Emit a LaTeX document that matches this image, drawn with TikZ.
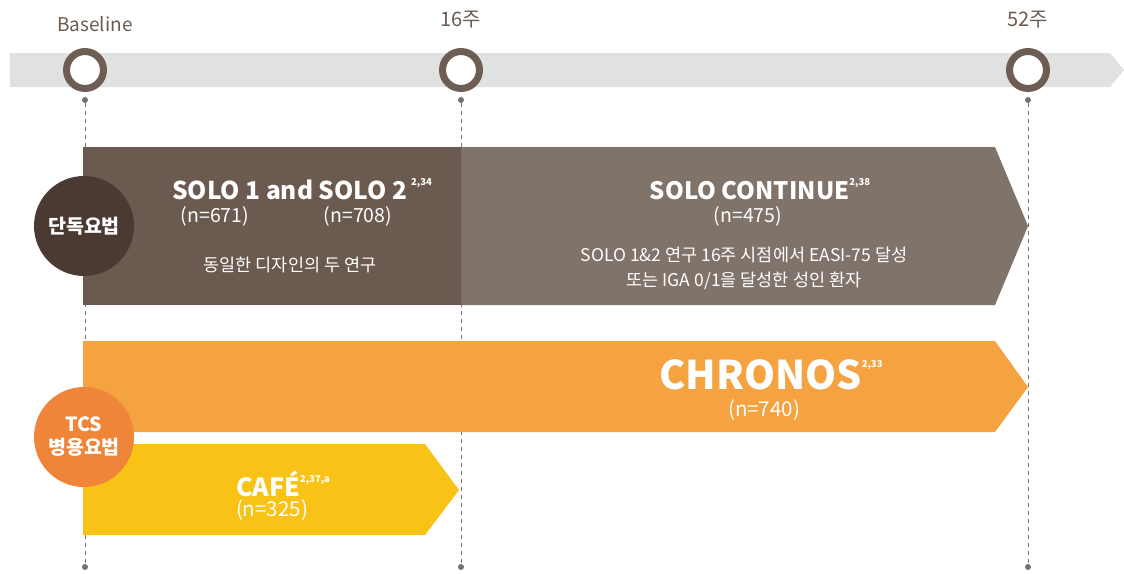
\documentclass[tikz,border=0pt]{standalone}
\usepackage{fontspec}
\setmainfont{Noto Sans CJK KR}
\definecolor{band}{HTML}{E0E2E1}
\definecolor{ring}{HTML}{6E5D53}
\definecolor{soloa}{HTML}{6B5A50}
\definecolor{solob}{HTML}{80736A}
\definecolor{darkc}{HTML}{4B3A32}
\definecolor{chron}{HTML}{F4A340}
\definecolor{tcsc}{HTML}{EE8538}
\definecolor{cafec}{HTML}{F8C316}
\definecolor{dashc}{HTML}{77706B}
\definecolor{lbl}{HTML}{6B5A50}
\newcommand{\sups}[1]{\raisebox{1.05ex}{\fontsize{9.5}{9.5}\selectfont #1}}
\tikzset{
  ringnode/.style={circle, draw=ring, line width=7pt, fill=white, minimum size=37pt, inner sep=0pt},
  dotnode/.style={circle, fill=dashc, minimum size=6pt, inner sep=0pt},
  vline/.style={draw=dashc, line width=1pt, dash pattern=on 4pt off 4pt},
  toplabel/.style={text=lbl, font=\fontsize{19}{19}\selectfont},
  boxtext/.style={text=white, align=center},
  catcircle/.style={circle, minimum size=100pt, inner sep=0pt, text=white, align=center, font=\bfseries\fontsize{19.5}{23}\selectfont}
}
\begin{document}
\begin{tikzpicture}[x=1pt,y=-1pt]
\useasboundingbox (0,0) rectangle (1124,573);
% timeline band
\fill[band] (10,53) -- (1110,53) -- (1124,70) -- (1110,87) -- (10,87) -- cycle;
% dots and dashed lines
\foreach \n/\x in {a/85,b/461,c/1028}{
  \node[dotnode] (t\n) at (\x,100) {};
  \node[dotnode] (b\n) at (\x,567) {};
  \draw[vline] (t\n) -- (b\n);
}
% rings
\node[ringnode] (r0) at (85,70) {};
\node[ringnode] (r16) at (461,70) {};
\node[ringnode] (r52) at (1028,70) {};
\node[toplabel] (l0) at (95,24) {Baseline};
\node[toplabel, font=\fontsize{20}{20}\selectfont] (l16) at (461,20) {16주};
\node[toplabel, font=\fontsize{20}{20}\selectfont] (l52) at (1028,20) {52주};
% SOLO boxes
\fill[soloa] (83,147) rectangle (461,305);
\fill[solob] (461,147) -- (995,147) -- (1028,226) -- (995,305) -- (461,305) -- cycle;
\draw[draw=dashc!80!soloa, line width=0.8pt, dash pattern=on 3pt off 3pt] (461,147) -- (461,305);
% CHRONOS
\fill[chron] (83,341) -- (995,341) -- (1028,387) -- (995,432) -- (83,432) -- cycle;
% CAFE
\fill[cafec] (83,444) -- (425,444) -- (459,490) -- (425,535) -- (83,535) -- cycle;
% category circles
\node[catcircle, fill=darkc] (mono) at (84,226) {단독요법};
\node[catcircle, fill=tcsc] (tcs) at (84,437) {TCS\\병용요법};
% SOLO 1/2 text
\node[boxtext, font=\bfseries\fontsize{24.5}{24.5}\selectfont] (s12) at (302,189) {SOLO 1 and SOLO 2\,\sups{2,34}};
\node[boxtext, font=\fontsize{19.5}{19.5}\selectfont] (n671) at (215,216) {(n=671)};
\node[boxtext, font=\fontsize{19.5}{19.5}\selectfont] (n708) at (358,216) {(n=708)};
\node[boxtext, font=\fontsize{17.5}{18}\selectfont] (same) at (290,265) {동일한 디자인의 두 연구};
% SOLO CONTINUE text
\node[boxtext, font=\bfseries\fontsize{24}{24}\selectfont] (sc) at (760,189) {SOLO CONTINUE\sups{2,38}};
\node[boxtext, font=\fontsize{19.5}{19.5}\selectfont] (n475) at (748,216) {(n=475)};
\node[boxtext, font=\fontsize{17.5}{25}\selectfont] (scd) at (744,268) {SOLO 1\&2 연구 16주 시점에서 EASI-75 달성\\또는 IGA 0/1을 달성한 성인 환자};
% CHRONOS text
\node[boxtext, font=\bfseries\fontsize{39.5}{39.5}\selectfont] (ch) at (771,375) {CHRONOS\sups{2,33}};
\node[boxtext, font=\fontsize{20.5}{20.5}\selectfont] (n740) at (764,410) {(n=740)};
% CAFE text
\node[boxtext, font=\bfseries\fontsize{25}{25}\selectfont] (cafe) at (283,484) {CAFÉ\sups{2,37,a}};
\node[boxtext, font=\fontsize{20.5}{20.5}\selectfont] (n325) at (272,510) {(n=325)};
\end{tikzpicture}
\end{document}
